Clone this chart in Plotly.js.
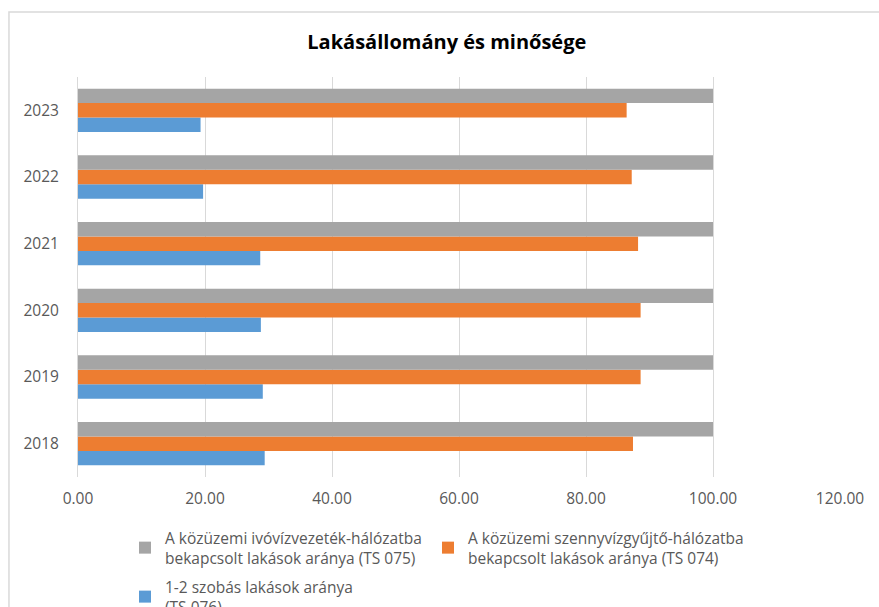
<!DOCTYPE html>
<html>
<head>
<meta charset="utf-8">
<script src="https://cdn.plot.ly/plotly-3.0.1.min.js"></script>
<style>html,body{margin:0;padding:0;background:#fff;}#chart{width:879px;height:607px;}</style>
</head>
<body>
<div id="chart"></div>
<script>
const years = ['2018', '2019', '2020', '2021', '2022', '2023'];
const water = [100, 100, 100, 100, 100, 100];
const sewer = [87.4, 88.6, 88.6, 88.2, 87.2, 86.4];
const rooms12 = [29.4, 29.1, 28.8, 28.7, 19.7, 19.3];
const seriesNames = [
  'A közüzemi ivóvízvezeték-hálózatba<br>bekapcsolt lakások aránya (TS 075)',
  'A közüzemi szennyvízgyűjtő-hálózatba<br>bekapcsolt lakások aránya (TS 074)',
  '1-2 szobás lakások aránya<br>(TS 076)'
];
const xTicks = [0, 20, 40, 60, 80, 100, 120];

const FONT = '"Open Sans", "Liberation Sans", sans-serif';
const traces = [
  {type: 'bar', orientation: 'h', y: years, x: rooms12, name: seriesNames[2], marker: {color: '#5B9BD5'}, legend: 'legend2'},
  {type: 'bar', orientation: 'h', y: years, x: sewer, name: seriesNames[1], marker: {color: '#ED7D31'}, legend: 'legend3'},
  {type: 'bar', orientation: 'h', y: years, x: water, name: seriesNames[0], marker: {color: '#A5A5A5'}, legend: 'legend'}
];
const legFont = {family: FONT, size: 15.5, color: '#595959'};
function leg(x, y) {
  return {orientation: 'h', xref: 'container', x: x, xanchor: 'left', yref: 'container', y: y, yanchor: 'top',
          font: legFont, itemclick: false, itemdoubleclick: false, bgcolor: 'rgba(0,0,0,0)'};
}
const layout = {
  width: 879, height: 607,
  margin: {l: 78, r: 39, t: 77, b: 130, autoexpand: false},
  paper_bgcolor: '#ffffff', plot_bgcolor: '#ffffff',
  font: {family: FONT, size: 14, color: '#595959'},
  barmode: 'group', bargap: 0.35, bargroupgap: 0,
  showlegend: true,
  title: {text: '<b>Lakásállomány és minősége</b>', font: {family: FONT, size: 20, color: '#000000'},
          x: 0.484, xref: 'paper', xanchor: 'center', y: 0.931, yref: 'container', yanchor: 'middle'},
  xaxis: {range: [0, 120], tickvals: xTicks, tickformat: '.2f', showgrid: true, gridcolor: '#D9D9D9', gridwidth: 1,
          zeroline: false, showline: false, ticks: 'outside', ticklen: 7, tickcolor: 'rgba(0,0,0,0)',
          tickfont: {family: FONT, size: 15.5, color: '#595959'}, fixedrange: true, automargin: false},
  yaxis: {type: 'category', categoryorder: 'array', categoryarray: years, showgrid: false,
          showline: true, linecolor: '#D9D9D9', linewidth: 1, ticks: 'outside', ticklen: 15, tickcolor: 'rgba(0,0,0,0)',
          tickfont: {family: FONT, size: 15.5, color: '#595959'}, fixedrange: true, automargin: false},
  legend: leg(0.1422, 0.1417),
  legend3: leg(0.4869, 0.1417),
  legend2: leg(0.1422, 0.0610),
  shapes: [{type: 'rect', xref: 'paper', yref: 'paper', x0: -0.0906, x1: 1.2, y0: -0.5, y1: 1.1625,
            line: {color: '#D9D9D9', width: 1.5}, fillcolor: 'rgba(0,0,0,0)', layer: 'below'}]
};
Plotly.newPlot('chart', traces, layout, {displayModeBar: false, staticPlot: true});
</script>
</body>
</html>
